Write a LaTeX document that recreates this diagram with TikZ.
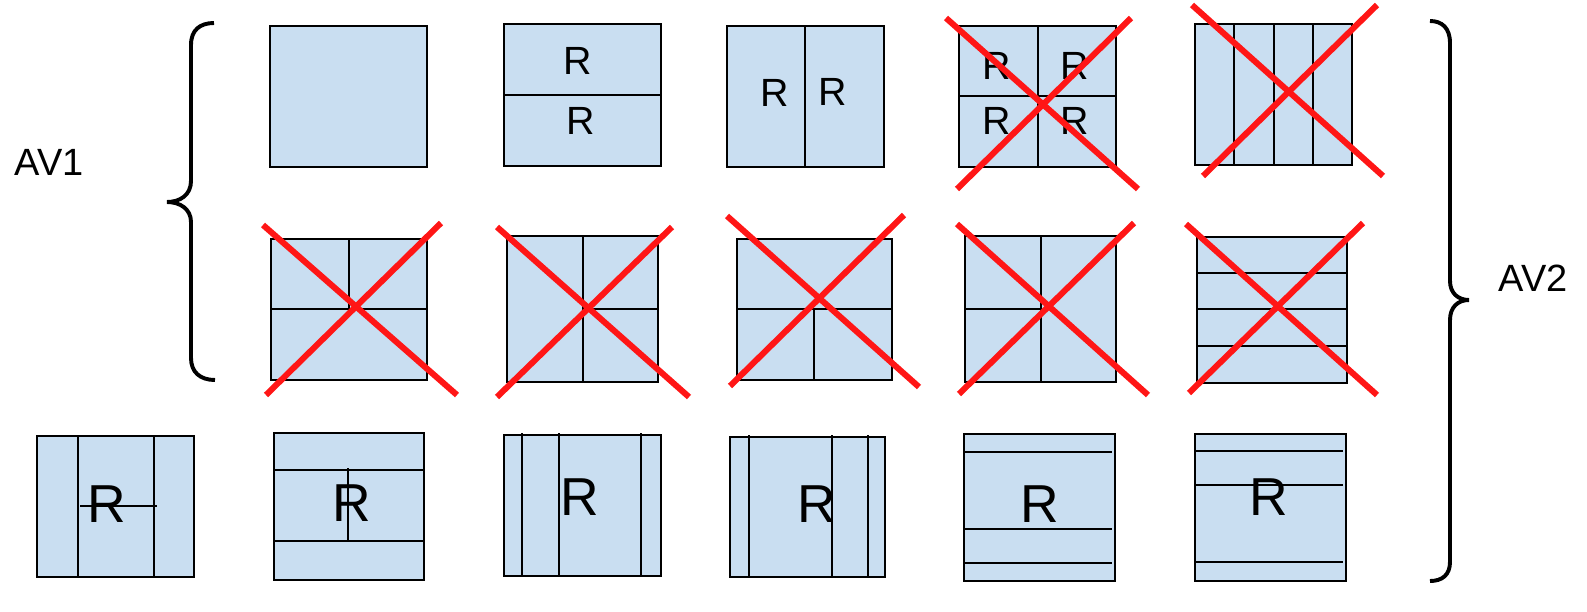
\documentclass[tikz,border=0pt]{standalone}
\usepackage{fontspec}
\setmainfont{Liberation Sans}
\usetikzlibrary{positioning}
\definecolor{cellblue}{RGB}{201,222,241}
\definecolor{crossred}{RGB}{255,22,22}
\begin{document}
\begin{tikzpicture}[x=0.025cm, y=-0.025cm,
  cell/.style={fill=cellblue, draw=black, line width=1.8pt},
  split/.style={draw=black, line width=1.45pt},
  cross/.style={draw=crossred, line width=4.3pt},
  brace/.style={draw=black, line width=2.8pt},
  lbl/.style={inner sep=0pt, font=\fontsize{27}{32}\selectfont},
  rsmall/.style={inner sep=0pt, font=\fontsize{28}{33}\selectfont},
  rbig/.style={inner sep=0pt, font=\fontsize{38}{45}\selectfont}]
\useasboundingbox (0,0) rectangle (1587,612);
\node (av1) at (49,162) [lbl] {AV1};
\node (av2) at (1533,278) [lbl] {AV2};
\draw [brace] (214,23) .. controls (200,23) and (191,30) .. (191,45) -- (191,181) .. controls (191,195) and (180,202) .. (167,202) .. controls (180,202) and (191,209) .. (191,222) -- (191,358) .. controls (191,372) and (200,380) .. (215,380);
\draw [brace] (1430,21) .. controls (1442,21) and (1450,28) .. (1450,43) -- (1450,281) .. controls (1450,293) and (1458,300) .. (1469,300) .. controls (1458,300) and (1450,307) .. (1450,320) -- (1450,562) .. controls (1450,575) and (1442,581) .. (1430,581);
\draw [cell] (270,26) rectangle (427,167);
\draw [cell] (504,24) rectangle (661,166);
\draw [split] (504,95) -- (661,95);
\node (r12a) at (578,61) [rsmall] {R};
\node (r12b) at (581,121) [rsmall] {R};
\draw [cell] (727,26) rectangle (884,167);
\draw [split] (805,26) -- (805,167);
\node (r13a) at (775,93) [rsmall] {R};
\node (r13b) at (833,92) [rsmall] {R};
\draw [cell] (959,26) rectangle (1116,167);
\draw [split] (1038,26) -- (1038,167);
\draw [split] (959,96) -- (1116,96);
\node (r14a) at (997,66) [rsmall] {R};
\node (r14b) at (1075,66) [rsmall] {R};
\node (r14c) at (997,121) [rsmall] {R};
\node (r14d) at (1075,121) [rsmall] {R};
\draw [cross] (946,18) -- (1138,189);
\draw [cross] (957,189) -- (1131,18);
\draw [cell] (1195,24) rectangle (1352,165);
\draw [split] (1234,24) -- (1234,165);
\draw [split] (1274,24) -- (1274,165);
\draw [split] (1313,24) -- (1313,165);
\draw [cross] (1192,5) -- (1383,176);
\draw [cross] (1203,176) -- (1377,5);
\draw [cell] (271,239) rectangle (427,380);
\draw [split] (349,239) -- (349,309);
\draw [split] (271,309) -- (427,309);
\draw [cross] (263,225) -- (457,395);
\draw [cross] (266,395) -- (441,223);
\draw [cell] (507,236) rectangle (658,382);
\draw [split] (583,236) -- (583,382);
\draw [split] (583,309) -- (658,309);
\draw [cross] (497,227) -- (689,397);
\draw [cross] (497,397) -- (672,227);
\draw [cell] (737,239) rectangle (892,380);
\draw [split] (737,309) -- (892,309);
\draw [split] (814,309) -- (814,380);
\draw [cross] (727,216) -- (919,387);
\draw [cross] (730,386) -- (904,215);
\draw [cell] (965,236) rectangle (1116,382);
\draw [split] (1041,236) -- (1041,382);
\draw [split] (965,309) -- (1041,309);
\draw [cross] (957,224) -- (1148,395);
\draw [cross] (959,394) -- (1134,223);
\draw [cell] (1197,237) rectangle (1347,383);
\draw [split] (1197,273) -- (1347,273);
\draw [split] (1197,309) -- (1347,309);
\draw [split] (1197,346) -- (1347,346);
\draw [cross] (1186,224) -- (1377,395);
\draw [cross] (1189,393) -- (1363,223);
\draw [cell] (37,436) rectangle (194,577);
\draw [split] (78,436) -- (78,577);
\draw [split] (154,436) -- (154,577);
\node (r31) at (107,504) [rbig] {R};
\draw [split] (80,506) -- (157,506);
\draw [cell] (274,433) rectangle (424,580);
\draw [split] (274,470) -- (424,470);
\draw [split] (274,541) -- (424,541);
\node (r32) at (352,503) [rbig] {R};
\draw [split] (348,468) -- (348,540);
\draw [cell] (504,435) rectangle (661,576);
\draw [split] (522,433) -- (522,576);
\draw [split] (559,433) -- (559,576);
\draw [split] (641,433) -- (641,576);
\node (r33) at (580,497) [rbig] {R};
\draw [cell] (730,437) rectangle (885,577);
\draw [split] (749,435) -- (749,577);
\draw [split] (832,435) -- (832,577);
\draw [split] (868,435) -- (868,577);
\node (r34) at (817,504) [rbig] {R};
\draw [cell] (964,434) rectangle (1115,581);
\draw [split] (963,452) -- (1112,452);
\draw [split] (963,529) -- (1112,529);
\draw [split] (963,563) -- (1112,563);
\node (r35) at (1040,504) [rbig] {R};
\draw [cell] (1195,434) rectangle (1346,581);
\draw [split] (1194,451) -- (1343,451);
\draw [split] (1194,485) -- (1343,485);
\draw [split] (1194,562) -- (1343,562);
\node (r36) at (1269,497) [rbig] {R};
\end{tikzpicture}
\end{document}
